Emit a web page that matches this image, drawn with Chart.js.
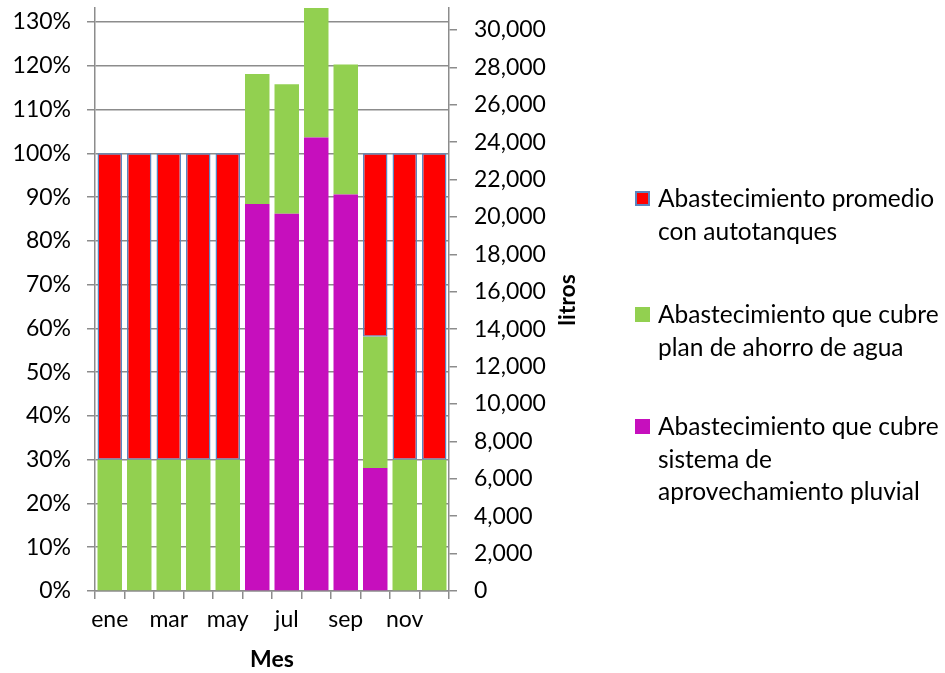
<!DOCTYPE html>
<html>
<head>
<meta charset="utf-8">
<script src="https://cdn.jsdelivr.net/npm/chart.js@4/dist/chart.umd.min.js"></script>
<style>
  html, body { margin: 0; padding: 0; background: #fff; }
  #wrap { position: relative; width: 945px; height: 673px; }
  #c { position: absolute; left: 0; top: 0; }
  .leg { position: absolute; left: 635px; font-family: Lato, "Open Sans", sans-serif; font-size: 24.5px; color: #000; line-height: 32.5px; }
  .leg .sw { position: absolute; left: 0; width: 15px; height: 15px; box-sizing: border-box; }
  .leg .tx { position: absolute; left: 23px; top: 0; white-space: nowrap; }
</style>
</head>
<body>
<div id="wrap">
  <canvas id="c" width="945" height="673"></canvas>
  <div id="legend"></div>
</div>
<script>
// Months of the year
const meses = ['ene', 'feb', 'mar', 'abr', 'may', 'jun', 'jul', 'ago', 'sep', 'oct', 'nov', 'dic'];

// Share of monthly demand (%) covered by each source
const pluvial     = [0, 0, 0, 0, 0, 88.4, 86.2, 103.6, 90.6, 28.1, 0, 0];
const ahorroAgua  = [30, 30, 30, 30, 30, 29.7, 29.6, 30, 29.7, 30, 30, 30];
const autotanques = [70, 70, 70, 70, 70, 0, 0, 0, 0, 41.9, 70, 70];

// Axis ticks
const ticksPct    = [0, 10, 20, 30, 40, 50, 60, 70, 80, 90, 100, 110, 120, 130];
const ticksLitros = [0, 2000, 4000, 6000, 8000, 10000, 12000, 14000, 16000, 18000, 20000, 22000, 24000, 26000, 28000, 30000];

const series = [
  { label: ['Abastecimiento promedio', 'con autotanques'], color: '#FF0000', border: '#5B86C0' },
  { label: ['Abastecimiento que cubre', 'plan de ahorro de agua'], color: '#92D050', border: null },
  { label: ['Abastecimiento que cubre', 'sistema de', 'aprovechamiento pluvial'], color: '#C60FBD', border: null }
];

const FONT = 'Lato, "Open Sans", sans-serif';
Chart.defaults.font.family = FONT;
Chart.defaults.font.size = 23;
Chart.defaults.color = '#000';

const GRID = '#8C8C8C';

// Rotated title for the secondary axis, reading bottom-to-top
const litrosTitle = {
  id: 'litrosTitle',
  afterDraw(chart) {
    const ctx = chart.ctx;
    ctx.save();
    ctx.translate(568, 300);
    ctx.rotate(-Math.PI / 2);
    ctx.font = 'bold 23px ' + FONT;
    ctx.fillStyle = '#000';
    ctx.textAlign = 'center';
    ctx.textBaseline = 'middle';
    ctx.fillText('litros', 0, 0);
    ctx.restore();
  }
};

// Fixed axis boxes so the plot area spans x 95..449, y 8..591
const fitBox = (w, h) => s => {
  if (w !== null) s.width = w;
  if (h !== null) s.height = h;
  s.paddingTop = 0; s.paddingBottom = 0; s.paddingLeft = 0; s.paddingRight = 0;
};

const barOpts = { barPercentage: 0.83, categoryPercentage: 1.0, clip: 0, borderSkipped: false };

new Chart(document.getElementById('c'), {
  type: 'bar',
  data: {
    labels: meses,
    datasets: [
      Object.assign({ label: series[2].label.join(' '), data: pluvial, backgroundColor: series[2].color, borderWidth: 0, yAxisID: 'y' }, barOpts),
      Object.assign({ label: series[1].label.join(' '), data: ahorroAgua, backgroundColor: series[1].color, borderWidth: 0, yAxisID: 'y' }, barOpts),
      Object.assign({ label: series[0].label.join(' '), data: autotanques, backgroundColor: series[0].color, borderColor: series[0].border, borderWidth: 1.5, yAxisID: 'y' }, barOpts)
    ]
  },
  options: {
    responsive: false,
    animation: false,
    events: [],
    layout: { padding: { top: 8, left: 0, right: 0, bottom: 0 } },
    plugins: { legend: { display: false }, tooltip: { enabled: false } },
    scales: {
      x: {
        stacked: true,
        grid: { offset: true, drawOnChartArea: false, drawTicks: true, tickLength: 8, color: GRID, lineWidth: 1.5 },
        border: { display: true, color: GRID, width: 1.5 },
        ticks: {
          autoSkip: false, maxRotation: 0, padding: 7,
          callback: (v, i) => (i % 2 === 0 ? meses[i] : '')
        },
        title: { display: true, text: 'Mes', font: { weight: 'bold', size: 23 }, padding: { top: 0, bottom: 0 } },
        afterFit: fitBox(null, 673 - 591)
      },
      y: {
        stacked: true,
        position: 'left',
        min: 0, max: 133.2,
        afterBuildTicks: s => { s.ticks = ticksPct.map(v => ({ value: v })); },
        ticks: { callback: v => v + '%', padding: 16 },
        grid: { color: GRID, lineWidth: 1.5, tickLength: 8 },
        border: { display: true, color: GRID, width: 1.5 },
        afterFit: fitBox(95, null)
      },
      y2: {
        position: 'right',
        min: 0, max: 31176,
        afterBuildTicks: s => { s.ticks = ticksLitros.map(v => ({ value: v })); },
        ticks: { callback: v => v.toLocaleString('en-US'), padding: 17 },
        grid: { drawOnChartArea: false, color: GRID, lineWidth: 1.5, tickLength: 8 },
        border: { display: true, color: GRID, width: 1.5 },
        afterFit: fitBox(945 - 449, null)
      }
    }
  },
  plugins: [litrosTitle]
});

// Legend on the right, one block per series with wrapped labels
const legendTops = [182, 298, 410];
const legend = document.getElementById('legend');
series.forEach((s, i) => {
  const item = document.createElement('div');
  item.className = 'leg';
  item.style.top = legendTops[i] + 'px';
  const sw = document.createElement('div');
  sw.className = 'sw';
  sw.style.top = '9px';
  sw.style.background = s.color;
  if (s.border) sw.style.border = '2px solid ' + s.border;
  const tx = document.createElement('div');
  tx.className = 'tx';
  tx.innerHTML = s.label.join('<br>');
  item.appendChild(sw);
  item.appendChild(tx);
  legend.appendChild(item);
});
</script>
</body>
</html>
